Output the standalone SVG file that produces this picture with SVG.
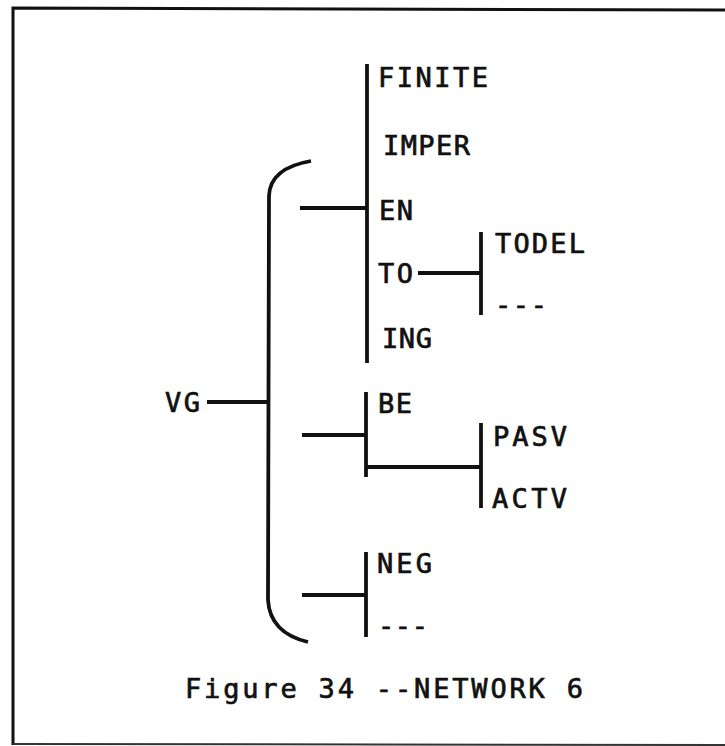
<svg xmlns="http://www.w3.org/2000/svg" width="725" height="746" viewBox="0 0 725 746">
<style>
text{font-family:"DejaVu Sans Mono","Liberation Mono",monospace;font-size:27px;fill:#111;stroke:#111;stroke-width:0.7}
.ln{stroke:#111;stroke-width:3.8;fill:none;stroke-linecap:butt}
.bd{stroke:#111;stroke-width:3;fill:none}
</style>
<rect width="725" height="746" fill="#fff"/>
<g id="border">
<path class="bd" d="M13,745 L13,8 L725,10"/>
<path d="M13,744 L725,745" stroke="#333" stroke-width="2"/>
</g>
<g id="connectors">
<path class="ln" d="M311,161 Q270,168 269,196 L268,600 Q270,633 308,642"/>
<line class="ln" x1="207" y1="402" x2="268" y2="402"/>
<line class="ln" x1="300" y1="208" x2="367" y2="208"/>
<line class="ln" x1="367" y1="64" x2="367" y2="363"/>
<line class="ln" x1="418" y1="273" x2="481" y2="273"/>
<line class="ln" x1="481" y1="232" x2="481" y2="315"/>
<line class="ln" x1="302" y1="435" x2="366" y2="435"/>
<line class="ln" x1="366" y1="392" x2="366" y2="477"/>
<line class="ln" x1="366" y1="467" x2="481" y2="467"/>
<line class="ln" x1="481" y1="423" x2="481" y2="508"/>
<line class="ln" x1="302" y1="595" x2="366" y2="595"/>
<line class="ln" x1="366" y1="552" x2="366" y2="637"/>
</g>
<g id="VG"><text x="165" y="412" textLength="35" lengthAdjust="spacing">VG</text></g>
<g id="FINITE"><text x="378" y="87" textLength="110" lengthAdjust="spacing">FINITE</text></g>
<g id="IMPER"><text x="383" y="155" textLength="87" lengthAdjust="spacing">IMPER</text></g>
<g id="EN"><text x="379" y="220" textLength="34" lengthAdjust="spacing">EN</text></g>
<g id="TO"><text x="378" y="283" textLength="35" lengthAdjust="spacing">TO</text></g>
<g id="ING"><text x="382" y="348" textLength="50" lengthAdjust="spacing">ING</text></g>
<g id="TODEL"><text x="495" y="253" textLength="90" lengthAdjust="spacing">TODEL</text></g>
<g id="TODEL-other"><text x="495" y="314" textLength="52" lengthAdjust="spacing">---</text></g>
<g id="BE"><text x="378" y="413" textLength="34" lengthAdjust="spacing">BE</text></g>
<g id="PASV"><text x="493" y="446" textLength="74" lengthAdjust="spacing">PASV</text></g>
<g id="ACTV"><text x="492" y="508" textLength="75" lengthAdjust="spacing">ACTV</text></g>
<g id="NEG"><text x="377" y="573" textLength="55" lengthAdjust="spacing">NEG</text></g>
<g id="NEG-other"><text x="378" y="635" textLength="50" lengthAdjust="spacing">---</text></g>
<g id="caption"><text x="185" y="698" textLength="398" lengthAdjust="spacing">Figure 34 --NETWORK 6</text></g>
</svg>
